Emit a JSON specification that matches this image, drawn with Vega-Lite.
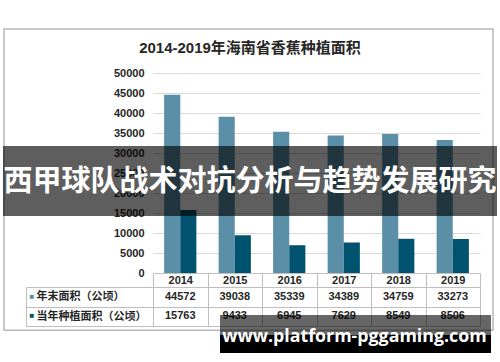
{
  "$schema": "https://vega.github.io/schema/vega-lite/v6.json",
  "padding": {"left": 3, "top": 28, "right": 0, "bottom": 0},
  "background": "white",
  "bounds": "flush",
  "title": {"text": "2014-2019年海南省香蕉种植面积", "font": "Liberation Sans, Noto Sans CJK SC", "fontSize": 15, "fontWeight": "bold", "color": "#262626", "anchor": "middle", "offset": -26, "dy": 17, "baseline": "bottom"},
  "datasets": {
    "area": [
      {"year": "2014", "series": "年末面积（公顷）", "value": 44572},
      {"year": "2015", "series": "年末面积（公顷）", "value": 39038},
      {"year": "2016", "series": "年末面积（公顷）", "value": 35339},
      {"year": "2017", "series": "年末面积（公顷）", "value": 34389},
      {"year": "2018", "series": "年末面积（公顷）", "value": 34759},
      {"year": "2019", "series": "年末面积（公顷）", "value": 33273},
      {"year": "2014", "series": "当年种植面积（公顷）", "value": 15763},
      {"year": "2015", "series": "当年种植面积（公顷）", "value": 9433},
      {"year": "2016", "series": "当年种植面积（公顷）", "value": 6945},
      {"year": "2017", "series": "当年种植面积（公顷）", "value": 7629},
      {"year": "2018", "series": "当年种植面积（公顷）", "value": 8549},
      {"year": "2019", "series": "当年种植面积（公顷）", "value": 8506}
    ],
    "one": [{}]
  },
  "spacing": 14,
  "vconcat": [
    {
      "width": 327,
      "height": 200,
      "layer": [
        {
          "data": {"name": "area"},
          "mark": {"type": "bar"},
          "encoding": {
            "x": {"field": "year", "type": "nominal", "scale": {"paddingInner": 0, "paddingOuter": 0},
              "axis": {"title": null, "orient": "bottom", "domain": true, "domainColor": "#bfbfbf", "ticks": true, "tickSize": 14, "tickBand": "extent", "tickColor": "#bfbfbf", "labelAngle": 0, "labelPadding": -7, "labelBaseline": "middle", "labelFont": "Liberation Sans", "labelFontSize": 11, "labelFontWeight": "bold", "labelColor": "#262626", "grid": false}},
            "xOffset": {"field": "series", "type": "nominal", "sort": ["年末面积（公顷）", "当年种植面积（公顷）"], "scale": {"paddingInner": 0, "paddingOuter": 0.69}},
            "y": {"field": "value", "type": "quantitative", "scale": {"domain": [0, 50000], "nice": false},
              "axis": {"title": null, "values": [0, 5000, 10000, 15000, 20000, 25000, 30000, 35000, 40000, 45000, 50000], "format": "d", "domain": false, "ticks": false, "labelPadding": 9, "labelFont": "Liberation Sans", "labelFontSize": 11, "labelFontWeight": "bold", "labelColor": "#262626", "grid": true, "gridColor": "#d9d9d9"}},
            "color": {"field": "series", "type": "nominal", "scale": {"domain": ["年末面积（公顷）", "当年种植面积（公顷）"], "range": ["#5b8fa8", "#00536e"]}, "legend": null}
          }
        },
        {
          "data": {"name": "one"},
          "mark": {"type": "rect", "fill": null, "filled": false, "stroke": "#b8b8b8", "strokeWidth": 1.5},
          "encoding": {
            "x": {"datum": 0.008, "type": "quantitative", "scale": {"domain": [0, 1], "range": [-153, 347], "nice": false, "zero": false}, "axis": null},
            "x2": {"datum": 0.986},
            "y": {"datum": 0.08, "type": "quantitative", "scale": {"domain": [0, 1], "range": [-73, 289], "nice": false, "zero": false}, "axis": null},
            "y2": {"datum": 0.912}
          }
        },
        {
          "data": {"name": "one"},
          "mark": {"type": "rect", "color": "#000000", "opacity": 0.63},
          "encoding": {
            "x": {"datum": 0.006, "type": "quantitative", "scale": {"domain": [0, 1], "range": [-153, 347], "nice": false, "zero": false}, "axis": null},
            "x2": {"datum": 0.994},
            "y": {"datum": 0.403, "type": "quantitative", "scale": {"domain": [0, 1], "range": [-73, 289], "nice": false, "zero": false}, "axis": null},
            "y2": {"datum": 0.597}
          }
        },
        {
          "data": {"name": "one"},
          "mark": {"type": "text", "text": "西甲球队战术对抗分析与趋势发展研究", "font": "Noto Sans CJK SC", "fontSize": 29, "fontWeight": "bold", "color": "#ffffff", "align": "center", "baseline": "middle"},
          "encoding": {
            "x": {"datum": 0.5, "type": "quantitative", "scale": {"domain": [0, 1], "range": [-153, 347], "nice": false, "zero": false}, "axis": null},
            "y": {"datum": 0.502, "type": "quantitative", "scale": {"domain": [0, 1], "range": [-73, 289], "nice": false, "zero": false}, "axis": null}
          }
        }
      ],
      "resolve": {"scale": {"x": "independent", "y": "independent", "color": "independent"}, "axis": {"x": "independent", "y": "independent"}}
    },
    {
      "width": 327,
      "height": 39,
      "layer": [
        {
          "data": {"name": "area"},
          "mark": {"type": "text", "font": "Liberation Sans", "fontSize": 11, "fontWeight": "bold", "color": "#262626", "baseline": "middle", "align": "center"},
          "encoding": {
            "x": {"field": "year", "type": "nominal", "scale": {"type": "band", "paddingInner": 0, "paddingOuter": 0},
              "axis": {"orient": "bottom", "title": null, "labels": false, "ticks": false, "domain": false, "grid": true, "tickBand": "extent", "gridColor": "#bfbfbf"}},
            "y": {"field": "series", "type": "nominal", "sort": ["年末面积（公顷）", "当年种植面积（公顷）"], "scale": {"type": "band", "paddingInner": 0, "paddingOuter": 0},
              "axis": {"orient": "left", "title": null, "grid": true, "gridColor": "#bfbfbf", "tickBand": "extent", "ticks": true, "tickSize": 127, "tickColor": "#bfbfbf", "domain": false, "labelAlign": "left", "labelPadding": -10, "labelBaseline": "middle", "labelFont": "Noto Sans CJK SC", "labelFontSize": 11, "labelFontWeight": "bold", "labelColor": "#262626", "labelLimit": 0}},
            "text": {"field": "value", "type": "quantitative", "format": "d"}
          }
        },
        {
          "data": {"name": "area"},
          "mark": {"type": "text", "text": " "},
          "encoding": {
            "y": {"field": "series", "type": "nominal", "sort": ["年末面积（公顷）", "当年种植面积（公顷）"], "scale": {"type": "band", "paddingInner": 0, "paddingOuter": 0},
              "axis": {"orient": "left", "offset": 127, "title": null, "grid": false, "ticks": false, "tickSize": 0, "domain": true, "domainColor": "#bfbfbf", "labelExpr": "'■'", "labelAlign": "left", "labelPadding": -3, "labelBaseline": "middle", "labelFontSize": 8, "labelColor": {"condition": {"test": "datum.value === '年末面积（公顷）'", "value": "#5b8fa8"}, "value": "#00536e"}}}
          }
        },
        {
          "data": {"name": "one"},
          "mark": {"type": "rect", "color": "#000000", "opacity": 0.6},
          "encoding": {
            "x": {"datum": 0.44, "type": "quantitative", "scale": {"domain": [0, 1], "range": [-153, 347], "nice": false, "zero": false}, "axis": null},
            "x2": {"datum": 0.982},
            "y": {"datum": 0.87, "type": "quantitative", "scale": {"domain": [0, 1], "range": [-287, 75], "nice": false, "zero": false}, "axis": null},
            "y2": {"datum": 0.925}
          }
        },
        {
          "data": {"name": "one"},
          "mark": {"type": "rect", "color": "#000000", "opacity": 1},
          "encoding": {
            "x": {"datum": 0.44, "type": "quantitative", "scale": {"domain": [0, 1], "range": [-153, 347], "nice": false, "zero": false}, "axis": null},
            "x2": {"datum": 0.982},
            "y": {"datum": 0.925, "type": "quantitative", "scale": {"domain": [0, 1], "range": [-287, 75], "nice": false, "zero": false}, "axis": null},
            "y2": {"datum": 0.975}
          }
        },
        {
          "data": {"name": "one"},
          "mark": {"type": "text", "text": "www.platform-pggaming.com", "font": "Open Sans", "fontSize": 17.8, "fontWeight": "bold", "color": "#ffffff", "align": "center", "baseline": "middle"},
          "encoding": {
            "x": {"datum": 0.709, "type": "quantitative", "scale": {"domain": [0, 1], "range": [-153, 347], "nice": false, "zero": false}, "axis": null},
            "y": {"datum": 0.93, "type": "quantitative", "scale": {"domain": [0, 1], "range": [-287, 75], "nice": false, "zero": false}, "axis": null}
          }
        }
      ],
      "resolve": {"scale": {"x": "independent", "y": "independent"}, "axis": {"x": "independent", "y": "independent"}}
    }
  ],
  "config": {"view": {"stroke": null}}
}
